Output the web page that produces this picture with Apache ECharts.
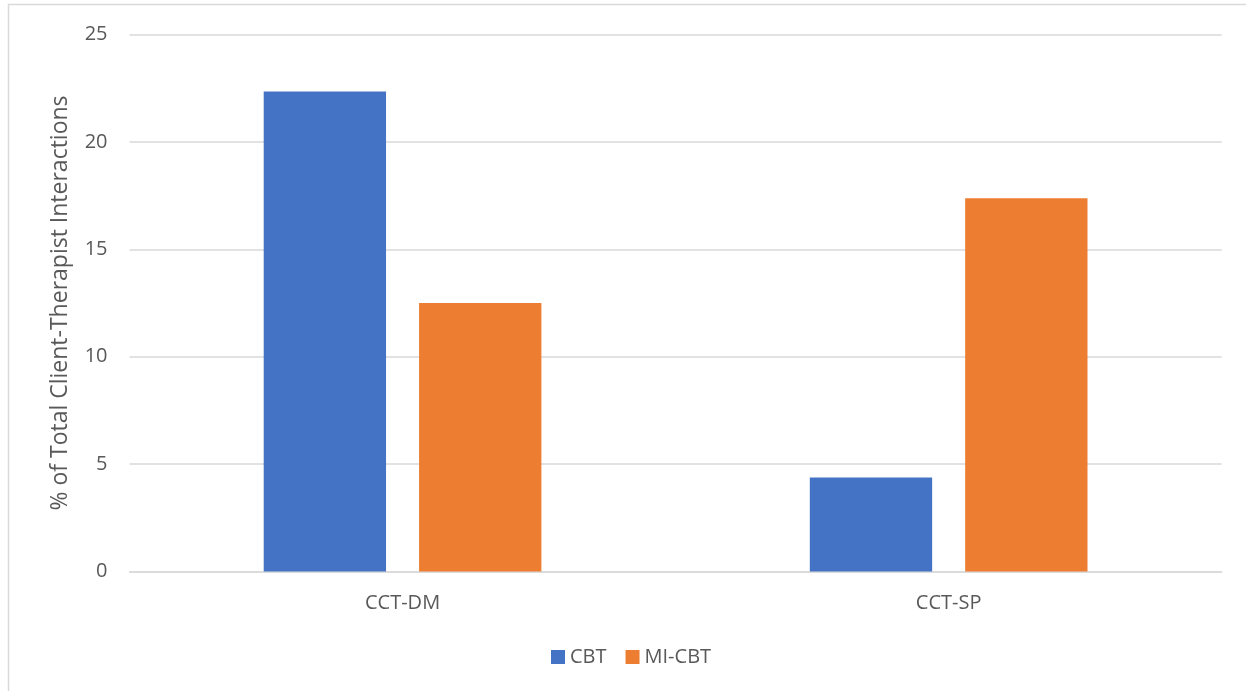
<!DOCTYPE html>
<html>
<head>
<meta charset="utf-8">
<script src="https://cdn.jsdelivr.net/npm/echarts@6/dist/echarts.min.js"></script>
<style>
html,body{margin:0;padding:0;background:#fff;}
#chart{width:1246px;height:691px;}
</style>
</head>
<body>
<div id="chart"></div>
<script>
const categories = ['CCT-DM', 'CCT-SP'];
const seriesNames = ['CBT', 'MI-CBT'];
const cbtValues = [22.35, 4.38];
const miCbtValues = [12.5, 17.38];
const yTicks = [0, 5, 10, 15, 20, 25];
const yAxisTitle = '% of Total Client-Therapist Interactions';

const FONT = '"Open Sans", "Noto Sans", sans-serif';
const TXT = '#595959';

const chart = echarts.init(document.getElementById('chart'), null, {renderer: 'canvas'});
chart.setOption({
  animation: false,
  backgroundColor: '#ffffff',
  textStyle: {fontFamily: FONT},
  graphic: [{
    type: 'rect',
    shape: {x: 8.5, y: 4.5, width: 1300, height: 800},
    style: {fill: 'none', stroke: '#d9d9d9', lineWidth: 1.5},
    silent: true,
    z: -1
  }],
  grid: {left: 129.5, right: 24.3, top: 34.5, bottom: 119.5},
  legend: {
    data: seriesNames,
    left: 546,
    top: 642,
    itemWidth: 14,
    itemHeight: 14,
    itemGap: 19,
    icon: 'rect',
    textStyle: {fontSize: 20, color: TXT, fontFamily: FONT}
  },
  xAxis: {
    type: 'category',
    data: categories,
    axisLine: {show: true, lineStyle: {color: '#d9d9d9', width: 1.5}},
    axisTick: {show: false},
    axisLabel: {fontSize: 20, color: TXT, margin: 22, fontFamily: FONT}
  },
  yAxis: {
    type: 'value',
    min: yTicks[0],
    max: yTicks[yTicks.length - 1],
    interval: yTicks[1] - yTicks[0],
    name: yAxisTitle,
    nameLocation: 'middle',
    nameGap: 58,
    nameTextStyle: {fontSize: 23, color: TXT, fontFamily: FONT},
    axisLine: {show: false},
    axisTick: {show: false},
    axisLabel: {fontSize: 20, color: TXT, margin: 22, fontFamily: FONT},
    splitLine: {lineStyle: {color: '#d9d9d9', width: 1.5}}
  },
  series: [
    {
      name: seriesNames[0],
      type: 'bar',
      data: cbtValues,
      barWidth: '22.4%',
      barGap: '27%',
      itemStyle: {color: '#4472C4'}
    },
    {
      name: seriesNames[1],
      type: 'bar',
      data: miCbtValues,
      barWidth: '22.4%',
      barGap: '27%',
      itemStyle: {color: '#ED7D31'}
    }
  ]
});
</script>
</body>
</html>
